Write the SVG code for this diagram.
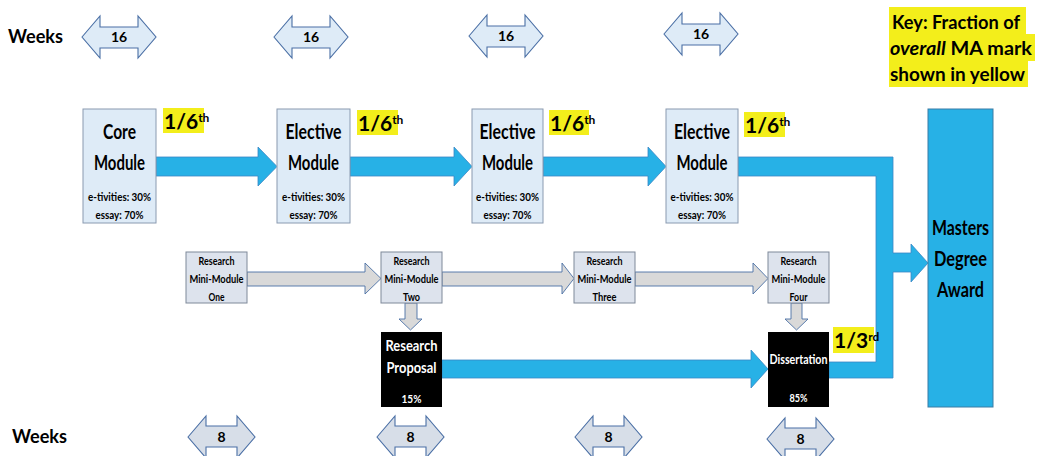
<svg xmlns="http://www.w3.org/2000/svg" width="1037" height="456" viewBox="0 0 1037 456">
<style>
text{font-family:Lato,"Open Sans","Liberation Sans",sans-serif;font-weight:bold;fill:#000}
.c{text-anchor:middle}
.mod{fill:#deebf7;stroke:#8a9ab0;stroke-width:1}
.mini{fill:#dde3ed;stroke:#7f8999;stroke-width:1}
.blk{fill:#000}
.blue{fill:#27b1e6;stroke:#3a86c4;stroke-width:0.8}
.grey{fill:#d9d9d9;stroke:#4a6fa5;stroke-width:0.9}
.wk16{fill:#deebf7;stroke:#4a6fa5;stroke-width:1.1}
.wk8{fill:#d7dee8;stroke:#4a6fa5;stroke-width:1.1}
.yel{fill:#f3ee1b}
.big{font-size:21px}
.sm{font-size:11.5px}
.mm{font-size:11px}
.w{fill:#fff}
</style>
<defs>
<path id="dbl16" d="M0,21 L18,0 L18,11 L56,11 L56,0 L74,21 L56,42 L56,32 L18,32 L18,42 Z"/>
<path id="dbl8" d="M0,21 L18,0 L18,10 L49,10 L49,0 L67,21 L49,42 L49,31 L18,31 L18,42 Z"/>
</defs>

<g id="weeks-top">
<text x="8" y="43" style="font-size:18px" textLength="55" lengthAdjust="spacingAndGlyphs">Weeks</text>
<use href="#dbl16" class="wk16" x="82" y="16"/><text class="c" x="119" y="42" style="font-size:14px">16</text>
<use href="#dbl16" class="wk16" x="274" y="16"/><text class="c" x="311" y="42" style="font-size:14px">16</text>
<use href="#dbl16" class="wk16" x="469" y="15"/><text class="c" x="506" y="41" style="font-size:14px">16</text>
<use href="#dbl16" class="wk16" x="664" y="13"/><text class="c" x="701" y="39" style="font-size:14px">16</text>
</g>

<g id="weeks-bottom">
<text x="12" y="443" style="font-size:18px" textLength="55" lengthAdjust="spacingAndGlyphs">Weeks</text>
<use href="#dbl8" class="wk8" x="188" y="416"/><text class="c" x="221.5" y="442" style="font-size:14px">8</text>
<use href="#dbl8" class="wk8" x="377" y="416"/><text class="c" x="410.5" y="442" style="font-size:14px">8</text>
<use href="#dbl8" class="wk8" x="575" y="416"/><text class="c" x="608.5" y="442" style="font-size:14px">8</text>
<use href="#dbl8" class="wk8" x="767" y="418"/><text class="c" x="800.5" y="444" style="font-size:14px">8</text>
</g>

<g id="key">
<rect class="yel" x="889" y="7" width="137" height="27"/>
<rect class="yel" x="889" y="34" width="146" height="27"/>
<rect class="yel" x="889" y="61" width="139" height="26"/>
<text x="892" y="29" style="font-size:19px" textLength="128" lengthAdjust="spacingAndGlyphs">Key: Fraction of</text>
<text x="890" y="55" style="font-size:19px" textLength="142" lengthAdjust="spacingAndGlyphs"><tspan font-style="italic">overall</tspan> MA mark</text>
<text x="890" y="81" style="font-size:19px" textLength="135" lengthAdjust="spacingAndGlyphs">shown in yellow</text>
</g>

<g id="connectors">
<path class="blue" d="M156,157 H258 V147 L277,166.5 L258,186 V176 H156 Z"/>
<path class="blue" d="M350,157 H454 V147 L472,166.5 L454,186 V176 H350 Z"/>
<path class="blue" d="M543,157 H648 V147 L666,166.5 L648,186 V176 H543 Z"/>
<path class="blue" d="M738,157 H893 V253 H911 V244 L928,263 L911,282 V272 H893 V378 H829 V362 H876 V176 H738 Z"/>
<path class="blue" d="M442,360 H751 V350 L768,369 L751,388 V378 H442 Z"/>
<path class="grey" d="M247,272 H365 V263 L381,278.5 L365,294 V286 H247 Z"/>
<path class="grey" d="M442,272 H562 V263 L574,278.5 L562,294 V286 H442 Z"/>
<path class="grey" d="M635,272 H753 V263 L768,278.5 L753,294 V286 H635 Z"/>
<path class="grey" d="M405,303 V319 H399 L410.5,330 L422,319 H417 V303 Z"/>
<path class="grey" d="M791,303 V319 H785 L796.5,330 L808,319 H802 V303 Z"/>
</g>

<g id="core-module">
<rect class="mod" x="83" y="109" width="73" height="114"/>
<text class="c big" x="119.5" y="139" textLength="33" lengthAdjust="spacingAndGlyphs">Core</text>
<text class="c big" x="119.5" y="170" textLength="51" lengthAdjust="spacingAndGlyphs">Module</text>
<text class="c sm" x="119.5" y="201" textLength="63" lengthAdjust="spacingAndGlyphs">e-tivities: 30%</text>
<text class="c sm" x="119.5" y="219" textLength="48" lengthAdjust="spacingAndGlyphs">essay: 70%</text>
</g>
<g id="elective-1">
<rect class="mod" x="277" y="109" width="73" height="114"/>
<text class="c big" x="313.5" y="139" textLength="56" lengthAdjust="spacingAndGlyphs">Elective</text>
<text class="c big" x="313.5" y="170" textLength="51" lengthAdjust="spacingAndGlyphs">Module</text>
<text class="c sm" x="313.5" y="201" textLength="63" lengthAdjust="spacingAndGlyphs">e-tivities: 30%</text>
<text class="c sm" x="313.5" y="219" textLength="48" lengthAdjust="spacingAndGlyphs">essay: 70%</text>
</g>
<g id="elective-2">
<rect class="mod" x="472" y="109" width="71" height="114"/>
<text class="c big" x="507.5" y="139" textLength="56" lengthAdjust="spacingAndGlyphs">Elective</text>
<text class="c big" x="507.5" y="170" textLength="51" lengthAdjust="spacingAndGlyphs">Module</text>
<text class="c sm" x="507.5" y="201" textLength="63" lengthAdjust="spacingAndGlyphs">e-tivities: 30%</text>
<text class="c sm" x="507.5" y="219" textLength="48" lengthAdjust="spacingAndGlyphs">essay: 70%</text>
</g>
<g id="elective-3">
<rect class="mod" x="666" y="109" width="72" height="114"/>
<text class="c big" x="702" y="139" textLength="56" lengthAdjust="spacingAndGlyphs">Elective</text>
<text class="c big" x="702" y="170" textLength="51" lengthAdjust="spacingAndGlyphs">Module</text>
<text class="c sm" x="702" y="201" textLength="63" lengthAdjust="spacingAndGlyphs">e-tivities: 30%</text>
<text class="c sm" x="702" y="219" textLength="48" lengthAdjust="spacingAndGlyphs">essay: 70%</text>
</g>

<g id="fractions">
<rect class="yel" x="163" y="108" width="41" height="25"/>
<text x="164" y="129" style="font-size:21px">1/6<tspan dy="-7" style="font-size:12px">th</tspan></text>
<rect class="yel" x="357" y="110" width="41" height="25"/>
<text x="358" y="131" style="font-size:21px">1/6<tspan dy="-7" style="font-size:12px">th</tspan></text>
<rect class="yel" x="549" y="110" width="40" height="25"/>
<text x="550" y="131" style="font-size:21px">1/6<tspan dy="-7" style="font-size:12px">th</tspan></text>
<rect class="yel" x="744" y="112" width="41" height="25"/>
<text x="745" y="133" style="font-size:21px">1/6<tspan dy="-7" style="font-size:12px">th</tspan></text>
<rect class="yel" x="833" y="327" width="41" height="26"/>
<text x="834" y="348" style="font-size:21px">1/3<tspan dy="-7" style="font-size:12px">rd</tspan></text>
</g>

<g id="mini-module-one">
<rect class="mini" x="186" y="252" width="61" height="51"/>
<text class="c mm" x="216.5" y="265" textLength="36" lengthAdjust="spacingAndGlyphs">Research</text>
<text class="c mm" x="216.5" y="283" textLength="54" lengthAdjust="spacingAndGlyphs">Mini-Module</text>
<text class="c mm" x="216.5" y="301" textLength="16" lengthAdjust="spacingAndGlyphs">One</text>
</g>
<g id="mini-module-two">
<rect class="mini" x="381" y="252" width="61" height="51"/>
<text class="c mm" x="411.5" y="265" textLength="36" lengthAdjust="spacingAndGlyphs">Research</text>
<text class="c mm" x="411.5" y="283" textLength="54" lengthAdjust="spacingAndGlyphs">Mini-Module</text>
<text class="c mm" x="411.5" y="301" textLength="17" lengthAdjust="spacingAndGlyphs">Two</text>
</g>
<g id="mini-module-three">
<rect class="mini" x="574" y="252" width="61" height="51"/>
<text class="c mm" x="604.5" y="265" textLength="36" lengthAdjust="spacingAndGlyphs">Research</text>
<text class="c mm" x="604.5" y="283" textLength="54" lengthAdjust="spacingAndGlyphs">Mini-Module</text>
<text class="c mm" x="604.5" y="301" textLength="24" lengthAdjust="spacingAndGlyphs">Three</text>
</g>
<g id="mini-module-four">
<rect class="mini" x="768" y="252" width="61" height="51"/>
<text class="c mm" x="798.5" y="265" textLength="36" lengthAdjust="spacingAndGlyphs">Research</text>
<text class="c mm" x="798.5" y="283" textLength="54" lengthAdjust="spacingAndGlyphs">Mini-Module</text>
<text class="c mm" x="798.5" y="301" textLength="18" lengthAdjust="spacingAndGlyphs">Four</text>
</g>

<g id="research-proposal">
<rect class="blk" x="381" y="332" width="61" height="75"/>
<text class="c w" x="411.5" y="351" style="font-size:16px" textLength="52" lengthAdjust="spacingAndGlyphs">Research</text>
<text class="c w" x="411.5" y="373" style="font-size:16px" textLength="50" lengthAdjust="spacingAndGlyphs">Proposal</text>
<text class="c w" x="411.5" y="403" style="font-size:11px" textLength="20" lengthAdjust="spacingAndGlyphs">15%</text>
</g>
<g id="dissertation">
<rect class="blk" x="768" y="332" width="61" height="75"/>
<text class="c w" x="798.5" y="364" style="font-size:13px" textLength="58" lengthAdjust="spacingAndGlyphs">Dissertation</text>
<text class="c w" x="798.5" y="402" style="font-size:11px" textLength="18" lengthAdjust="spacingAndGlyphs">85%</text>
</g>

<g id="masters-degree-award">
<rect x="928" y="109" width="65" height="298" fill="#27b1e6" stroke="#3a7ca5" stroke-width="1"/>
<text class="c" x="960.5" y="235" style="font-size:21px" textLength="57" lengthAdjust="spacingAndGlyphs">Masters</text>
<text class="c" x="960.5" y="266" style="font-size:21px" textLength="53" lengthAdjust="spacingAndGlyphs">Degree</text>
<text class="c" x="960.5" y="297" style="font-size:21px" textLength="47" lengthAdjust="spacingAndGlyphs">Award</text>
</g>
</svg>
